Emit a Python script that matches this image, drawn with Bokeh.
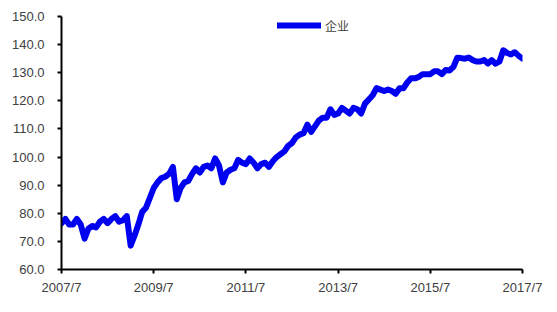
from bokeh.plotting import figure
from bokeh.models import FixedTicker, Range1d, Legend, LegendItem, NumeralTickFormatter, ColumnDataSource
from bokeh.embed import file_html
from bokeh.resources import INLINE

# Monthly index values, 2007/7 .. 2017/7
series_name = "企业"
tick_labels = ["2007/7", "2009/7", "2011/7", "2013/7", "2015/7", "2017/7"]
values = [
    76.4, 78, 76, 76, 78, 76, 71, 74.5, 75.5, 75, 77, 78,
    76.5, 78, 79, 77, 77.5, 79, 68.5, 72, 76, 80.5, 82, 85.5,
    89, 91, 92.5, 93, 94, 96.5, 85, 89, 91, 91.5, 94, 96,
    94.5, 96.5, 97, 96, 99.5, 97, 91, 94.5, 95.5, 96, 99, 98,
    97.5, 99.5, 98, 96, 97.5, 98, 96.5, 98.5, 100, 101, 102, 104,
    105, 107, 108, 108.5, 111.5, 109, 111, 113, 114, 114, 117, 115,
    115.5, 117.5, 116.5, 115.5, 117.5, 117, 115.5, 119, 120.5, 122, 124.5, 124,
    123.5, 124, 123.5, 122.5, 124.5, 124.5, 126.5, 128, 128, 128.5, 129.5, 129.5,
    129.5, 130.5, 130.5, 129.5, 131, 130.8, 132, 135.3, 135.2, 135, 135.4, 134.5,
    134, 134, 134.5, 133.3, 134.5, 133.2, 134, 138, 137, 136.5, 137.3, 136,
    135,
]
months = list(range(len(values)))

src = ColumnDataSource(dict(x=months, y=values))

p = figure(width=557, height=312, output_backend="svg", toolbar_location=None,
           x_range=Range1d(0, 120), y_range=Range1d(60, 150),
           min_border_left=61, min_border_right=35, min_border_top=16, min_border_bottom=43)
p.outline_line_color = None
p.background_fill_color = "white"
p.border_fill_color = "white"
p.grid.visible = False

r = p.line("x", "y", source=src, line_color="#0000f0", line_width=6, line_join="round", line_cap="round")

font = "Liberation Sans"
p.xaxis.ticker = FixedTicker(ticks=[0, 24, 48, 72, 96, 120])
p.xaxis.major_label_overrides = {i * 24: lab for i, lab in enumerate(tick_labels)}
p.yaxis.ticker = FixedTicker(ticks=list(range(60, 151, 10)))
p.yaxis.formatter = NumeralTickFormatter(format="0.0")
for ax in (p.xaxis, p.yaxis):
    ax.axis_line_color = "black"
    ax.axis_line_width = 2
    ax.major_tick_line_color = "black"
    ax.major_tick_line_width = 2
    ax.major_tick_in = 0
    ax.major_tick_out = 4
    ax.minor_tick_line_color = None
    ax.major_label_text_font = font
    ax.major_label_text_font_size = "13px"
    ax.major_label_text_color = "#404040"
p.xaxis.major_label_standoff = 6
p.yaxis.major_label_standoff = 13

legend = Legend(items=[LegendItem(label=series_name, renderers=[r])],
                location=(216, 234), orientation="horizontal",
                glyph_width=44, glyph_height=20, label_height=20,
                label_standoff=4, padding=0, margin=0, spacing=0,
                border_line_color=None, background_fill_alpha=0,
                label_text_font="Noto Sans CJK SC", label_text_font_size="12px",
                label_text_color="#404040")
p.add_layout(legend, "center")

open("out.html", "w").write(file_html(p, INLINE))
